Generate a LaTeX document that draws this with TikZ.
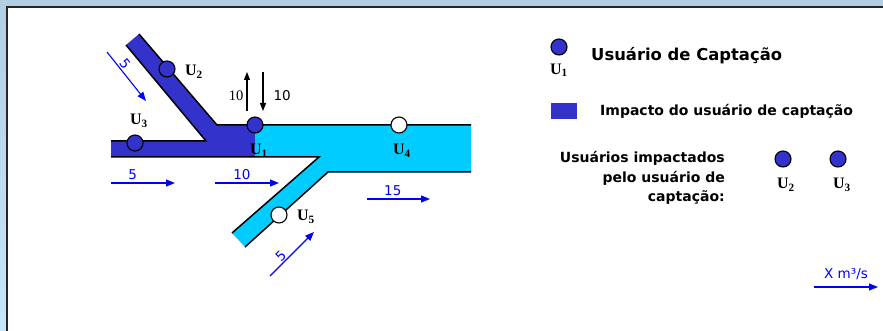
\documentclass[tikz,border=0pt]{standalone}
\usepackage{fontspec}
\setmainfont{Liberation Serif}
\newfontfamily\vfont{DejaVu Sans}
\usetikzlibrary{arrows.meta,positioning}
\definecolor{imp}{RGB}{51,51,204}
\definecolor{agua}{RGB}{0,204,255}
\definecolor{seta}{RGB}{0,0,250}
\definecolor{moltop}{RGB}{178,206,226}
\definecolor{molbot}{RGB}{200,230,250}

\begin{document}
\begin{tikzpicture}[x=1pt,y=-1pt,
 usr/.style={circle,draw,line width=1.1pt,minimum size=16pt,inner sep=0pt},
 lbl/.style={font=\fontsize{16}{16}\selectfont\bfseries,inner sep=0pt},
 flx/.style={draw=seta,line width=1.1pt,-{Triangle[length=9pt,width=7pt]}},
 fl/.style={text=seta,font=\vfont\fontsize{13.5}{13.5}\selectfont,inner sep=1pt},
 arr/.style={-{Triangle[length=8pt,width=6pt]},line width=1.1pt},
 leg/.style={font=\vfont\bfseries\fontsize{14}{19.5}\selectfont,inner sep=0pt}]
% moldura
\useasboundingbox (0,0) rectangle (883,331);
\shade[top color=moltop,bottom color=molbot] (0,0) rectangle (883,331);
\fill[white] (7,7) rectangle (883,331);
\draw[line width=1.6pt,black!85] (7,331) -- (7,7) -- (883,7);
% rio
\fill[imp] (111,141) -- (206,141) -- (126,45) -- (139,34) -- (217,125) -- (255,125) -- (255,157) -- (111,157) -- cycle;
\fill[agua] (255,125) -- (471,125) -- (471,172) -- (328,172) -- (245,247) -- (232,233) -- (319,157) -- (255,157) -- cycle;
\draw[line width=1.5pt] (111,141) -- (206,141) -- (126,45);
\draw[line width=1.5pt] (139,34) -- (217,125) -- (471,125);
\draw[line width=1.5pt] (111,157) -- (319,157) -- (232,233);
\draw[line width=1.5pt] (245,247) -- (328,172) -- (471,172);
% usuarios
\node[usr,fill=imp] (u1) at (255,125) {};
\node[usr,fill=imp] (u2) at (167,69) {};
\node[usr,fill=imp] (u3) at (135,143) {};
\node[usr,fill=white] (u4) at (399,125) {};
\node[usr,fill=white] (u5) at (279,215) {};
\node[lbl] (l1) at (259,151) {U\textsubscript{1}};
\node[lbl] (l2) at (194,72) {U\textsubscript{2}};
\node[lbl] (l3) at (139,121) {U\textsubscript{3}};
\node[lbl] (l4) at (402,151) {U\textsubscript{4}};
\node[lbl] (l5) at (306,217) {U\textsubscript{5}};
% captacao
\coordinate (ca) at (247,111); \coordinate (cb) at (247,72);
\coordinate (cc) at (263,72); \coordinate (cd) at (263,111);
\draw[arr] (ca) -- (cb) node[pos=0.4,left=3pt,inner sep=0pt,font=\fontsize{14.5}{14.5}\selectfont] {10};
\draw[arr] (cc) -- (cd) node[pos=0.6,right=10pt,inner sep=0pt,font=\vfont\fontsize{13.5}{13.5}\selectfont] {10};
% vazoes
\coordinate (f2a) at (107,52); \coordinate (f2b) at (146,101);
\coordinate (f5a) at (270,276); \coordinate (f5b) at (314,232);
\coordinate (f3a) at (111,183); \coordinate (f3b) at (175,183);
\coordinate (f1a) at (215,183); \coordinate (f1b) at (279,183);
\coordinate (f4a) at (367,199); \coordinate (f4b) at (430,199);
\coordinate (fxa) at (814,287); \coordinate (fxb) at (878,287);
\draw[flx] (f2a) -- (f2b) node[fl,pos=0.33,above,sloped] {5};
\draw[flx] (f5a) -- (f5b) node[fl,pos=0.35,above,sloped] {5};
\draw[flx] (f3a) -- (f3b) node[fl,pos=0.34,above=2pt] {5};
\draw[flx] (f1a) -- (f1b) node[fl,pos=0.42,above=2pt] {10};
\draw[flx] (f4a) -- (f4b) node[fl,pos=0.41,above=2pt] {15};
\draw[flx] (fxa) -- (fxb) node[fl,midway,above=6pt] {X m³/s};
% legenda
\node[usr,fill=imp] (g1) at (559,47) {};
\node[lbl,below=8pt of g1] (gl1) {U\textsubscript{1}};
\node[leg,anchor=west,font=\vfont\bfseries\fontsize{16.4}{16.4}\selectfont] (tit) at (591,56) {Usuário de Captação};
\node[fill=imp,minimum width=26pt,minimum height=16pt,inner sep=0pt] (gi) at (564,111) {};
\node[leg,anchor=west] (imp) at (600,111) {Impacto do usuário de captação};
\node[leg,align=right,anchor=east] (uimp) at (725,178) {Usuários impactados\\pelo usuário de\\captação:};
\node[usr,fill=imp] (g2) at (783,159) {};
\node[usr,fill=imp] (g3) at (838,159) {};
\node[lbl] (gl2) at (786,185) {U\textsubscript{2}};
\node[lbl] (gl3) at (842,185) {U\textsubscript{3}};
\end{tikzpicture}
\end{document}
